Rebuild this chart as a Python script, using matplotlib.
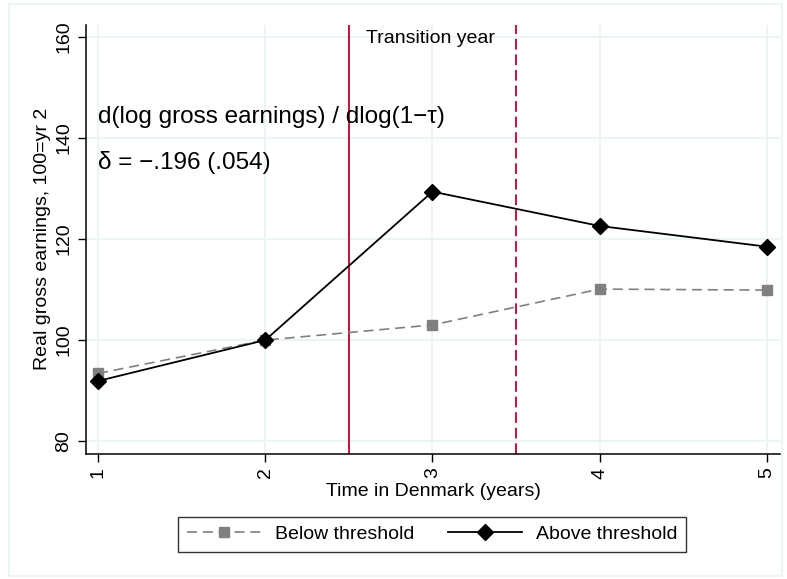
import matplotlib
matplotlib.use("Agg")
import matplotlib.pyplot as plt
from matplotlib.patches import Rectangle

years = [1, 2, 3, 4, 5]
below = [93.4, 100.0, 103.0, 110.1, 109.9]
above = [91.9, 100.0, 129.4, 122.6, 118.5]
y_ticks = [80, 100, 120, 140, 160]
transition = [2.5, 3.5]

plt.rcParams['font.family'] = ['Liberation Sans', 'DejaVu Sans']

red = '#C4133F'
grid_c = '#EAF2F3'

fig = plt.figure(figsize=(7.87, 5.79), dpi=100)
fig.patches.append(Rectangle((0.011, 0.006), 0.983, 0.987, transform=fig.transFigure,
                             fill=False, edgecolor=grid_c, linewidth=1.2))
ax = fig.add_axes([0.1093, 0.2164, 0.8817, 0.7404])

for t in y_ticks:
    ax.axhline(t, color=grid_c, lw=1.2, zorder=0)
for x in years:
    ax.axvline(x, color=grid_c, lw=1.2, zorder=0)

ax.axvline(transition[0], color=red, lw=1.4, zorder=1)
ax.axvline(transition[1], color=red, lw=1.4, ls=(0, (5.5, 2.5)), zorder=1)

ax.plot(years, below, color='#808080', ls=(0, (6, 3.5)), lw=1.2, marker='s',
        markersize=7, markerfacecolor='#808080', markeredgecolor='#808080',
        label='Below threshold', zorder=3)
ax.plot(years, above, color='black', lw=1.3, marker='D', markersize=8.5,
        markerfacecolor='black', label='Above threshold', zorder=4)

ax.set_xlim(0.928, 5.078)
ax.set_ylim(77.5, 162.4)
ax.set_xticks(years)
ax.set_yticks(y_ticks)
ax.set_xticklabels([str(y) for y in years], rotation=90, fontsize=14)
ax.set_yticklabels([str(t) for t in y_ticks], rotation=90, va='center', fontsize=14)
ax.tick_params(direction='out', length=6, width=1, pad=4)
for s in ['top', 'right']:
    ax.spines[s].set_visible(False)
ax.spines['left'].set_linewidth(1.1)
ax.spines['bottom'].set_linewidth(1.1)

ax.set_xlabel('Time in Denmark (years)', fontsize=14, labelpad=3)
ax.set_ylabel('Real gross earnings, 100=yr 2', fontsize=14, labelpad=3)

ax.text(2.6, 159.8, 'Transition year', fontsize=14, va='center')
ax.text(1.0, 144.2, 'd(log gross earnings) / dlog(1\u2212\u03c4)', fontsize=17.5, va='center')
ax.text(1.0, 135.2, '\u03b4 = \u2212.196 (.054)', fontsize=17.5, va='center')

leg = fig.legend(loc='center', bbox_to_anchor=(0.549, 0.0775), ncol=2, fontsize=14,
                 frameon=True, fancybox=False, edgecolor='black', handlelength=3.8,
                 handletextpad=0.7, columnspacing=1.75, borderpad=0.45)
leg.get_frame().set_linewidth(1.0)

fig.savefig('out.png', dpi=100, facecolor='white')
